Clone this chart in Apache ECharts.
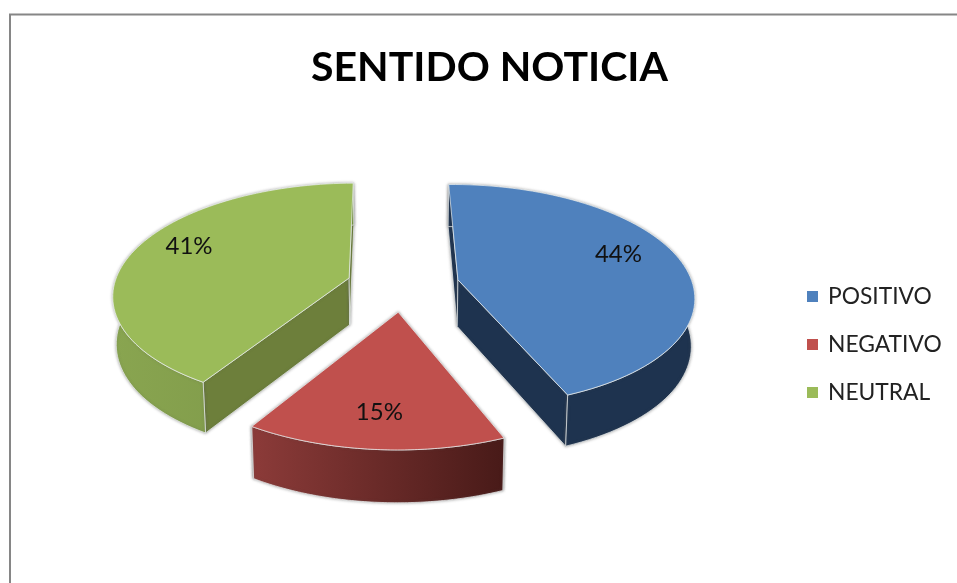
<!DOCTYPE html>
<html>
<head>
<meta charset="utf-8">
<style>html,body{margin:0;padding:0;background:#fff}#c{width:957px;height:583px}</style>
<script src="https://cdn.jsdelivr.net/npm/echarts@6/dist/echarts.min.js"></script>
</head>
<body>
<div id="c"></div>
<script>
const titleText = 'SENTIDO NOTICIA';
const categories = ['POSITIVO', 'NEGATIVO', 'NEUTRAL'];
const values = [44, 15, 41];
const faceColors = ['#4F81BD', '#C0504D', '#9BBB59'];
const wallFlat = ['#1E334F', '#5A2220', '#6D7F3B'];
const wallLeft = ['#1E334F', '#8C3B39', '#89A550'];
const wallRight = ['#1E334F', '#481A18', '#7A9446'];

// Projection of the exploded, tilted pie
const CX = 403, CY = 285, RX = 235, RY = 110, K = 0.14, EXPLODE = 0.24, DEPTH = 47, SHRINK = 0.988;
const START_ANGLE = -0.7 * Math.PI / 180;
const total = values.reduce((a, b) => a + b, 0);
const FONT = 'Lato, Carlito, "Open Sans", sans-serif';

function top3d(u, v) {
  const w = 1 / (1 - K * v);
  return [CX + RX * u * w, CY + RY * v * w];
}
function bottom3d(u, v) {
  const p = top3d(u, v);
  return [CX + (p[0] - CX) * SHRINK, p[1] + DEPTH * (1 + 0.1 * v)];
}

function renderSlice(idx) {
  return function (params, api) {
    const before = values.slice(0, idx).reduce((a, b) => a + b, 0);
    const a0 = START_ANGLE + before / total * Math.PI * 2;
    const a1 = START_ANGLE + (before + api.value(0)) / total * Math.PI * 2;
    const mid = (a0 + a1) / 2;
    const ox = EXPLODE * Math.sin(mid), oy = -EXPLODE * Math.cos(mid);
    const rim = [];
    const n = 80;
    for (let i = 0; i <= n; i++) {
      const a = a0 + (a1 - a0) * i / n;
      rim.push([ox + Math.sin(a), oy - Math.cos(a)]);
    }
    const topRim = rim.map(p => top3d(p[0], p[1]));
    const botRim = rim.map(p => bottom3d(p[0], p[1]));
    const apexT = top3d(ox, oy), apexB = bottom3d(ox, oy);
    const edge = 'rgba(235,240,240,0.7)';
    const shadow = { shadowBlur: 3, shadowColor: 'rgba(90,90,90,0.55)' };
    const wall = (pts, fill, sh) => ({
      type: 'polygon', shape: { points: pts },
      style: Object.assign({ fill: fill, stroke: edge, lineWidth: 1 }, sh ? shadow : {})
    });
    const children = [
      wall([apexT, topRim[0], botRim[0], apexB], wallFlat[idx], true),
      wall([apexT, topRim[n], botRim[n], apexB], wallFlat[idx], true),
      wall(topRim.concat(botRim.slice().reverse()), {
        type: 'linear', x: 0, y: 0, x2: 1, y2: 0,
        colorStops: [{ offset: 0, color: wallLeft[idx] }, { offset: 1, color: wallRight[idx] }]
      }, true),
      wall([apexT].concat(topRim), faceColors[idx], false)
    ];
    // data label
    const rho = 0.73;
    const lu = ox + rho * Math.sin(mid), lv = oy - rho * Math.cos(mid);
    const lp = top3d(lu, lv);
    const pct = Math.round(api.value(0) / total * 100) + '%';
    children.push({
      type: 'text',
      x: lp[0] - 2, y: lp[1] - 13 * (1 - Math.min(lv, 1)) + 5,
      style: { text: pct, fill: '#111', font: '24px ' + FONT, align: 'center', verticalAlign: 'middle' }
    });
    return { type: 'group', children: children };
  };
}

const chart = echarts.init(document.getElementById('c'), null, { renderer: 'canvas' });
chart.setOption({
  animation: false,
  backgroundColor: '#fff',
  title: {
    text: titleText, left: 484.5, top: 42, textAlign: 'center',
    textStyle: { fontFamily: FONT, fontWeight: 'bold', fontSize: 41, color: '#000' }
  },
  legend: {
    orient: 'vertical', left: 802, top: 279, data: categories,
    icon: 'rect', itemWidth: 11, itemHeight: 11, itemGap: 23,
    selectedMode: false,
    textStyle: { fontFamily: FONT, fontSize: 22.8, color: '#222', padding: [0, 0, 0, 5], lineHeight: 25 }
  },
  graphic: [
    { type: 'polyline', silent: true, shape: { points: [[10, 583], [10, 14.5], [957, 14.5]] },
      style: { fill: 'none', stroke: '#868686', lineWidth: 2 } }
  ],
  series: categories.map((name, i) => ({
    type: 'custom', name: name, coordinateSystem: 'none',
    itemStyle: { color: faceColors[i] },
    renderItem: renderSlice(i),
    data: [values[i]]
  }))
});
</script>
</body>
</html>
